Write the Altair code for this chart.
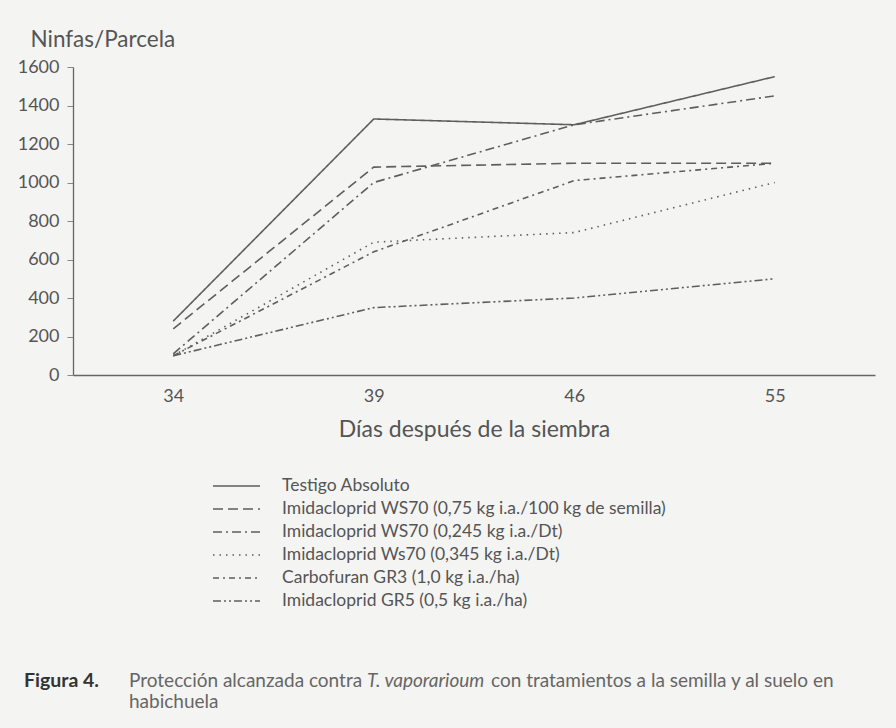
import altair as alt
import pandas as pd

# ---- data ----
dias = ["34", "39", "46", "55"]
series_names = [
    "Testigo Absoluto",
    "Imidacloprid WS70 (0,75 kg i.a./100 kg de semilla)",
    "Imidacloprid WS70 (0,245 kg i.a./Dt)",
    "Imidacloprid Ws70 (0,345 kg i.a./Dt)",
    "Carbofuran GR3 (1,0 kg i.a./ha)",
    "Imidacloprid GR5 (0,5 kg i.a./ha)",
]
testigo = [280, 1330, 1300, 1550]
ws70_075 = [240, 1080, 1100, 1100]
ws70_0245 = [110, 1000, 1300, 1450]
ws70_0345 = [100, 690, 740, 1000]
carbofuran = [100, 640, 1010, 1100]
gr5 = [100, 350, 400, 500]
y_ticks = [0, 200, 400, 600, 800, 1000, 1200, 1400, 1600]

caption_bold = "Figura 4."
caption_1 = "Protección alcanzada contra"
caption_italic = "T. vaporarioum"
caption_2 = "con tratamientos a la semilla y al suelo en"
caption_3 = "habichuela"

values = [testigo, ws70_075, ws70_0245, ws70_0345, carbofuran, gr5]
rows = []
for name, vals in zip(series_names, values):
    for d, v in zip(dias, vals):
        rows.append({"dia": d, "ninfas": v, "serie": name})
df = pd.DataFrame(rows)
legend_df = pd.DataFrame({"serie": series_names})

dashes = [[1, 0], [10, 5], [9, 4, 2, 4], [1.5, 5], [6, 4, 2, 4], [8, 3, 2, 3, 2, 3]]
dash_scale = alt.Scale(domain=series_names, range=dashes)

FONT = "Lato"
GREY = "#555555"
LINE = "#5e5e5e"

lines = alt.Chart(df).mark_line(color=LINE, strokeWidth=1.6).encode(
    x=alt.X("dia:O", sort=dias,
            scale=alt.Scale(type="point", padding=0.5),
            axis=alt.Axis(title="Días después de la siembra", labelAngle=0,
                          ticks=False, tickSize=0, labelPadding=12,
                          labelFontSize=18, titleFontSize=23,
                          titleY=61, titleBaseline="alphabetic",
                          domainColor="#666666", domainWidth=1.3)),
    y=alt.Y("ninfas:Q", scale=alt.Scale(domain=[0, 1600], nice=False),
            axis=alt.Axis(title="Ninfas/Parcela", values=y_ticks, format="d",
                          tickSize=6, labelPadding=8, labelFontSize=18,
                          titleFontSize=22.5,
                          titleAngle=0, titleAlign="left", titleX=-43,
                          titleY=-21, titleBaseline="alphabetic",
                          tickColor="#888888", domainColor="#666666",
                          domainWidth=1.3, grid=False)),
    strokeDash=alt.StrokeDash("serie:N", scale=dash_scale, legend=None),
    detail="serie:N",
)

leg_y = alt.Y("serie:N", sort=series_names,
              scale=alt.Scale(type="point", range=[419, 534], padding=0),
              axis=None)

legend_rules = alt.Chart(legend_df).mark_rule(color=LINE, strokeWidth=1.3).encode(
    x=alt.value(140), x2=alt.value(187), y=leg_y,
    strokeDash=alt.StrokeDash("serie:N", scale=dash_scale, legend=None),
)
legend_text = alt.Chart(legend_df).mark_text(
    align="left", baseline="middle", font=FONT, fontSize=17.5, color=GREY
).encode(x=alt.value(209), y=leg_y, text="serie:N")


def cap(txt, x, y, color="#666666", size=19, **kw):
    return alt.Chart(pd.DataFrame({"t": [txt]})).mark_text(
        align="left", baseline="alphabetic", font=FONT, fontSize=size,
        color=color, **kw
    ).encode(x=alt.value(x), y=alt.value(y), text="t:N")


caption = [
    cap(caption_bold, -49, 620, color="#333333", size=19.5, fontWeight="bold"),
    cap(caption_1, 56, 620),
    cap(caption_italic, 294, 620, fontStyle="italic"),
    cap(caption_2, 418, 620),
    cap(caption_3, 56, 641),
]

chart = alt.layer(lines, legend_rules, legend_text, *caption).resolve_scale(
    y="independent"
).properties(
    width=802, height=308,
    autosize=alt.AutoSizeParams(type="none"),
    padding={"left": 73, "top": 67, "right": 21, "bottom": 353},
    background="#f4f4f2",
).configure_view(stroke=None).configure_axis(
    labelFont=FONT, titleFont=FONT, labelColor=GREY, titleColor=GREY,
    titleFontWeight="normal",
)

chart.save("out.html", embed_options={"renderer": "svg", "actions": False})
